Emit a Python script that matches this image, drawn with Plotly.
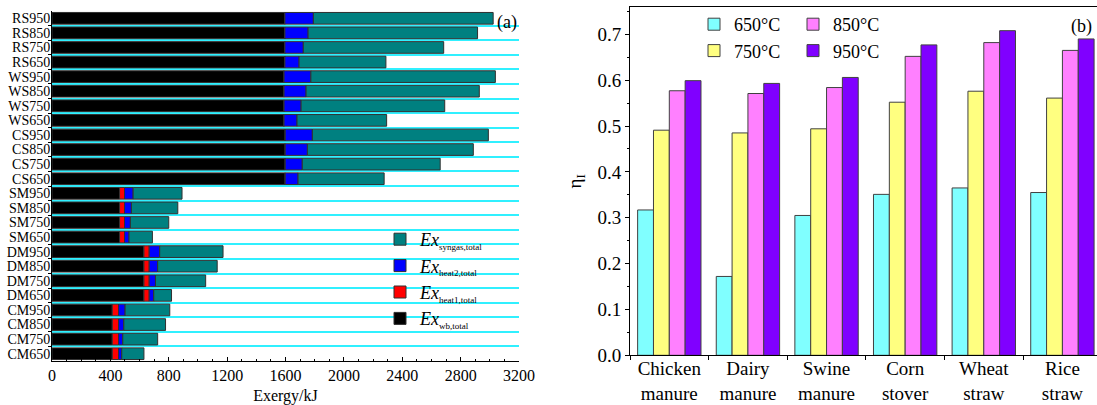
import numpy as np
import plotly.graph_objects as go

# ---------------- Panel (a) data: bottom -> top ----------------
labels_a = ["CM650", "CM750", "CM850", "CM950",
            "DM650", "DM750", "DM850", "DM950",
            "SM650", "SM750", "SM850", "SM950",
            "CS650", "CS750", "CS850", "CS950",
            "WS650", "WS750", "WS850", "WS950",
            "RS650", "RS750", "RS850", "RS950"]
ex_wb = [413, 413, 413, 413,
         630, 630, 630, 630,
         463, 463, 463, 463,
         1598, 1598, 1598, 1598,
         1590, 1590, 1590, 1590,
         1596, 1596, 1596, 1596]
ex_heat1 = [43, 43, 43, 43,
            36, 36, 36, 36,
            34, 34, 34, 34,
            0, 0, 0, 0,
            0, 0, 0, 0,
            0, 0, 0, 0]
ex_heat2 = [22, 29, 36, 45,
            31, 43, 58, 72,
            31, 40, 47, 59,
            88, 117, 152, 186,
            89, 117, 151, 184,
            97, 126, 159, 195]
ex_syngas = [152, 239, 286, 306,
             122, 344, 408, 434,
             160, 263, 318, 335,
             590, 945, 1137, 1206,
             614, 984, 1187, 1264,
             595, 962, 1161, 1232]

# ---------------- Panel (b) data ----------------
feedstocks = ["Chicken<br>manure", "Dairy<br>manure", "Swine<br>manure",
              "Corn<br>stover", "Wheat<br>straw", "Rice<br>straw"]
eta_650 = [0.317, 0.172, 0.305, 0.351, 0.365, 0.355]
eta_750 = [0.491, 0.485, 0.494, 0.552, 0.576, 0.561]
eta_850 = [0.577, 0.571, 0.584, 0.652, 0.682, 0.665]
eta_950 = [0.599, 0.593, 0.606, 0.677, 0.708, 0.690]

FONT = "Times New Roman, Liberation Serif, serif"
W, H = 1097, 405

fig = go.Figure()

idx = np.arange(len(labels_a))
series_a = [
    ("<i>Ex</i><sub><span style='font-size:9px'>wb,total</span></sub>", ex_wb, "#000000", 4),
    ("<i>Ex</i><sub><span style='font-size:9px'>heat1,total</span></sub>", ex_heat1, "#FF0000", 3),
    ("<i>Ex</i><sub><span style='font-size:9px'>heat2,total</span></sub>", ex_heat2, "#0000FF", 2),
    ("<i>Ex</i><sub><span style='font-size:9px'>syngas,total</span></sub>", ex_syngas, "#008080", 1),
]
base = np.zeros(len(labels_a))
for i, (name, vals, col, rank) in enumerate(series_a):
    v = np.array(vals, dtype=float)
    fig.add_trace(go.Bar(
        x=v, y=idx, base=base.copy(), orientation="h", name=name,
        marker=dict(color=col, line=dict(color="#303030", width=1)),
        width=0.8, offset=-0.4, offsetgroup="a",
        xaxis="x", yaxis="y", legend="legend", legendgroup="g%d" % i,
        legendrank=rank,
    ))
    base = base + v

series_b = [
    ("650°C", eta_650, "#80FFFF", "legend2"),
    ("750°C", eta_750, "#FFFF80", "legend2"),
    ("850°C", eta_850, "#FF80FF", "legend3"),
    ("950°C", eta_950, "#8000FF", "legend3"),
]
for name, vals, col, lg in series_b:
    fig.add_trace(go.Bar(
        x=feedstocks, y=vals, name=name,
        marker=dict(color=col, line=dict(color="#404040", width=1)),
        xaxis="x2", yaxis="y2", legend=lg,
    ))

fig.update_layout(
    width=W, height=H,
    template="none",
    margin=dict(l=0, r=0, t=0, b=0),
    paper_bgcolor="white", plot_bgcolor="white",
    font=dict(family=FONT, color="black", size=16),
    barmode="group", bargap=0.194, bargroupgap=0,
    showlegend=True,
    xaxis=dict(
        domain=[52 / W, 519 / W], anchor="y", range=[0, 3200],
        tick0=0, dtick=400, ticks="inside", ticklen=4, tickcolor="black",
        minor=dict(dtick=100, ticks="inside", ticklen=2, tickcolor="black"),
        showline=True, linecolor="black", linewidth=1,
        showgrid=False, zeroline=False, automargin=False,
        tickfont=dict(size=16, family=FONT),
        title=dict(text="Exergy/kJ", font=dict(size=16, family=FONT), standoff=10),
    ),
    yaxis=dict(
        domain=[(H - 361) / H, (H - 11) / H], anchor="x", range=[-0.5, len(labels_a) - 0.5],
        tickmode="array", tickvals=idx, ticktext=labels_a, ticks="",
        ticklabelstandoff=-2,
        minor=dict(tickmode="array", tickvals=(idx[:-1] + 0.5).tolist(), ticks="outside",
                   ticklen=3, tickcolor="black", showgrid=True,
                   gridcolor="#30F0FF", gridwidth=1.5),
        showline=True, linecolor="black", linewidth=1,
        showgrid=False, zeroline=False, automargin=False,
        tickfont=dict(size=14, family=FONT),
    ),
    xaxis2=dict(
        domain=[630 / W, 1.0], anchor="y2", type="category", range=[-0.5, 5.44],
        tickson="boundaries", ticks="outside", ticklen=4, tickcolor="black",
        ticklabelstandoff=-4,
        showline=True, mirror=True, linecolor="black", linewidth=1,
        showgrid=False, zeroline=False, automargin=False,
        tickfont=dict(size=19, family=FONT),
    ),
    yaxis2=dict(
        domain=[(H - 355.3) / H, (H - 7.3) / H], anchor="x2", range=[0, 0.759],
        tick0=0, dtick=0.1, tickformat=".1f", ticks="outside", ticklen=4, tickcolor="black",
        minor=dict(dtick=0.05, ticks="outside", ticklen=2, tickcolor="black"),
        showline=True, linecolor="black", linewidth=1,
        showgrid=False, zeroline=False, automargin=False,
        tickfont=dict(size=19, family=FONT),
        title=dict(text="η<sub>I</sub>", font=dict(size=19, family=FONT), standoff=10),
    ),
    legend=dict(
        x=380 / W, y=(H - 221) / H, xanchor="left", yanchor="top",
        bgcolor="rgba(0,0,0,0)", font=dict(size=18, family=FONT),
        traceorder="grouped", tracegroupgap=0,
    ),
    legend2=dict(
        x=694 / W, y=(H - 6) / H, xanchor="left", yanchor="top",
        bgcolor="rgba(0,0,0,0)", font=dict(size=18, family=FONT),
        traceorder="normal",
    ),
    legend3=dict(
        x=793 / W, y=(H - 6) / H, xanchor="left", yanchor="top",
        bgcolor="rgba(0,0,0,0)", font=dict(size=18, family=FONT),
        traceorder="normal",
    ),
    annotations=[
        dict(text="(a)", x=506.6 / W, y=(H - 22.6) / H, xref="paper", yref="paper",
             xanchor="center", yanchor="middle",
             showarrow=False, font=dict(size=18, family=FONT)),
        dict(text="(b)", x=1081.7 / W, y=(H - 26.7) / H, xref="paper", yref="paper",
             xanchor="center", yanchor="middle",
             showarrow=False, font=dict(size=18, family=FONT)),
    ],
)

fig.write_html("out.html")
